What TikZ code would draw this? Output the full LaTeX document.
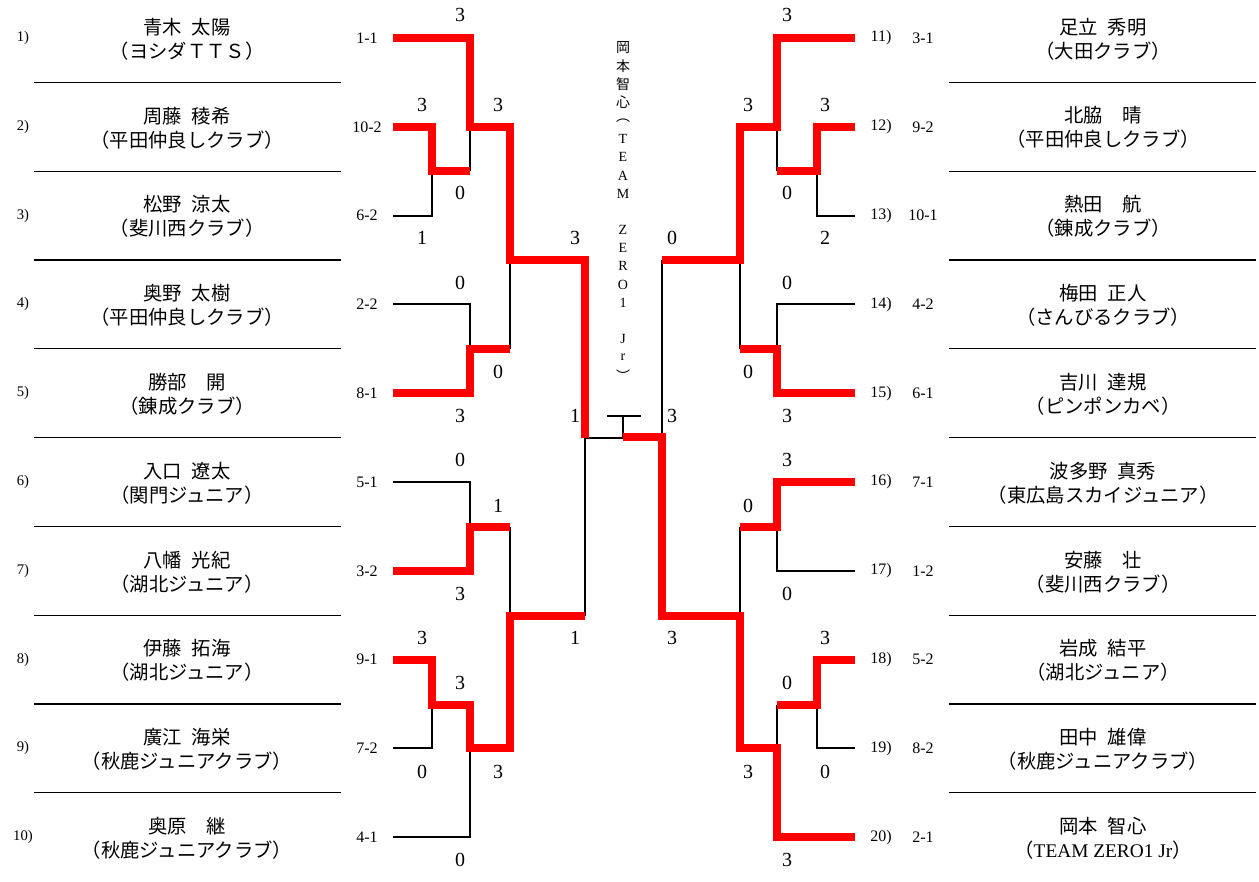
\documentclass[tikz,border=0pt]{standalone}
\usepackage{fontspec}
\setmainfont{Liberation Serif}
\newfontfamily\jp{Noto Sans CJK JP}
\newcommand\hs{\hspace{0.5em}}
\begin{document}
\begin{tikzpicture}[x=0.75pt,y=-0.75pt,
  win/.style={red, line width=5.5pt},
  lose/.style={black, line width=2pt},
  sep/.style={black, line width=0.9pt},
  player/.style={align=center, inner sep=0pt, font=\jp\fontsize{14.5}{18}\selectfont},
  score/.style={inner sep=0pt, font=\fontsize{15}{15}\selectfont},
  seed/.style={inner sep=0pt, font=\fontsize{12}{12}\selectfont},
  idx/.style={inner sep=0pt, font=\fontsize{11}{11}\selectfont},
  vchar/.style={inner sep=0pt, font=\fontsize{10.5}{10.5}\selectfont}]
\useasboundingbox (0,0) rectangle (1259,881);
\foreach \k in {1,...,9} {
  \draw[sep] (34,{82.4+(\k-1)*88.8}) -- (341,{82.4+(\k-1)*88.8});
  \draw[sep] (949,{82.4+(\k-1)*88.8}) -- (1256,{82.4+(\k-1)*88.8});
}
\foreach \nm/\cl [count=\i] in {青木\hs 太陽/（ヨシダＴＴＳ）,
  周藤\hs 稜希/（平田仲良しクラブ）, 松野\hs 涼太/（斐川西クラブ）,
  奥野\hs 太樹/（平田仲良しクラブ）, 勝部　開/（錬成クラブ）,
  入口\hs 遼太/（関門ジュニア）, 八幡\hs 光紀/（湖北ジュニア）,
  伊藤\hs 拓海/（湖北ジュニア）, 廣江\hs 海栄/（秋鹿ジュニアクラブ）,
  奥原　継/（秋鹿ジュニアクラブ）}
  \node[player] (pl\i) at (187,{39+(\i-1)*88.8}) {\nm\\\cl};
\foreach \nm/\cl [count=\i] in {足立\hs 秀明/（大田クラブ）,
  北脇　晴/（平田仲良しクラブ）, 熱田　航/（錬成クラブ）,
  梅田\hs 正人/（さんびるクラブ）, 吉川\hs 達規/（ピンポンカベ）,
  波多野\hs 真秀/（東広島スカイジュニア）, 安藤　壮/（斐川西クラブ）,
  岩成\hs 結平/（湖北ジュニア）, 田中\hs 雄偉/（秋鹿ジュニアクラブ）,
  岡本\hs 智心/（{\rmfamily TEAM ZERO1 Jr}）}
  \node[player] (pr\i) at (1103,{39+(\i-1)*88.8}) {\nm\\\cl};
\foreach \c [count=\i] in {1-1,10-2,6-2,2-2,8-1,5-1,3-2,9-1,7-2,4-1} {
  \node[idx] (nl\i) at (23,{38+(\i-1)*88.8}) {\i)};
  \node[seed] (cl\i) at (367,{38+(\i-1)*88.8}) {\c};
}
\foreach \c [count=\i] in {3-1,9-2,10-1,4-2,6-1,7-1,1-2,5-2,8-2,2-1} {
  \pgfmathtruncatemacro\j{\i+10}
  \node[seed] (nr\i) at (881,{38+(\i-1)*88.8}) {\j)};
  \node[seed] (cr\i) at (923,{38+(\i-1)*88.8}) {\c};
}
\draw[lose] (393,216) -- (432,216) -- (432,171);
\draw[lose] (470,171) -- (470,127);
\draw[lose] (393,304) -- (470,304) -- (470,349);
\draw[lose] (510,260) -- (510,349);
\draw[lose] (393,482) -- (470,482) -- (470,527);
\draw[lose] (510,527) -- (510,616);
\draw[lose] (393,748) -- (432,748) -- (432,705);
\draw[lose] (393,837) -- (470,837) -- (470,748);
\draw[lose] (585,616) -- (585,438) -- (623,438);
\draw[lose] (855,216) -- (817,216) -- (817,171);
\draw[lose] (777,171) -- (777,127);
\draw[lose] (855,304) -- (777,304) -- (777,349);
\draw[lose] (740,260) -- (740,349);
\draw[lose] (855,571) -- (777,571) -- (777,527);
\draw[lose] (740,527) -- (740,616);
\draw[lose] (855,748) -- (817,748) -- (817,705);
\draw[lose] (777,705) -- (777,748);
\draw[lose] (662,260) -- (662,437);
\draw[line width=1.3pt] (607,416) -- (641,416) (623,416) -- (623,438);
\draw[win] (393,38) -- (470,38) -- (470,127) -- (510,127) -- (510,260) -- (585,260) -- (585,438);
\draw[win] (393,127) -- (432,127) -- (432,171) -- (470,171);
\draw[win] (393,393) -- (470,393) -- (470,349) -- (510,349);
\draw[win] (393,571) -- (470,571) -- (470,527) -- (510,527);
\draw[win] (393,660) -- (432,660) -- (432,705) -- (470,705) -- (470,748) -- (510,748) -- (510,616) -- (585,616);
\draw[win] (855,38) -- (777,38) -- (777,127) -- (740,127) -- (740,260) -- (662,260);
\draw[win] (855,127) -- (817,127) -- (817,171) -- (777,171);
\draw[win] (855,393) -- (777,393) -- (777,349) -- (740,349);
\draw[win] (855,482) -- (777,482) -- (777,527) -- (740,527);
\draw[win] (855,660) -- (817,660) -- (817,705) -- (777,705);
\draw[win] (855,837) -- (777,837) -- (777,748) -- (740,748) -- (740,616) -- (662,616) -- (662,437) -- (623,437);
\foreach \px/\py/\s [count=\i] in {460/15/3, 422/105/3, 498/105/3, 460/193/0,
  422/238/1, 575/238/3, 460/283/0, 498/372/0, 460/416/3, 575/416/1,
  460/460/0, 498/506/1, 460/594/3, 575/638/1, 422/638/3, 460/683/3,
  422/772/0, 498/772/3, 460/860/0,
  787/15/3, 748/105/3, 825/105/3, 787/193/0, 825/238/2, 672/238/0,
  787/283/0, 748/372/0, 787/416/3, 672/416/3, 787/460/3, 748/506/0,
  787/594/0, 672/638/3, 825/638/3, 787/683/0, 748/772/3, 825/772/0, 787/860/3}
  \node[score] (s\i) at (\px,\py) {\s};
\foreach \ch [count=\i] in {{\jp 岡},{\jp 本},{\jp 智},{\jp 心},{\jp ︵},T,E,A,M,{},
  Z,E,R,O,1,{},J,r,{\jp ︶}}
  \node[vchar] (v\i) at (623,{48+(\i-1)*18.2}) {\ch};
\end{tikzpicture}
\end{document}
